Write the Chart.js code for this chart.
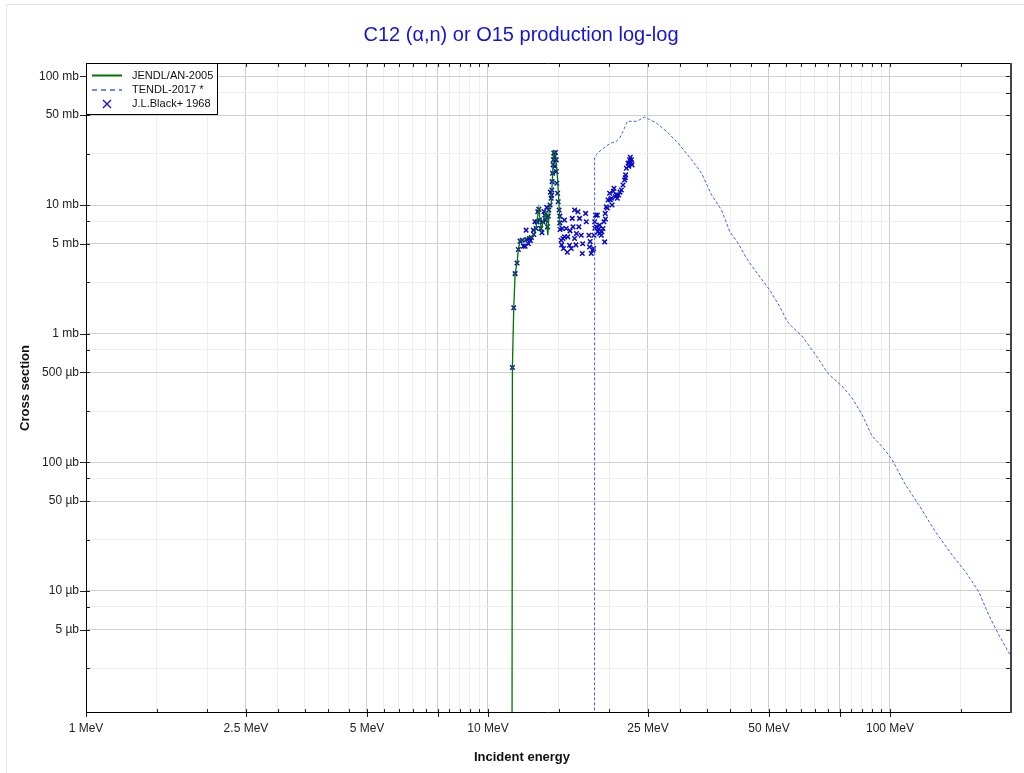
<!DOCTYPE html>
<html>
<head>
<meta charset="utf-8">
<script src="https://cdn.jsdelivr.net/npm/chart.js@4.4.0/dist/chart.umd.min.js"></script>
<style>
  body { margin: 0; background: #fff; }
  canvas { display: block; }
</style>
</head>
<body>
<canvas id="xs-canvas" width="1024" height="773"></canvas>
<script>
// JENDL/AN-2005 evaluation (MeV, mb)
var jendlE = [11.45, 11.50, 11.59, 11.68, 11.81, 11.90, 12.02, 12.34, 12.60, 12.96,
              13.17, 13.38, 13.56, 13.74, 13.90, 14.09, 14.22, 14.36, 14.50, 14.58,
              14.72, 14.90, 15.03, 15.11];
var jendlXS = [0.000001, 0.545, 1.59, 2.93, 3.54, 4.51, 5.33, 5.33, 5.66, 5.66,
               6.77, 9.44, 6.38, 7.64, 8.86, 5.83, 9.70, 10.0, 18.77, 26.3,
               25.35, 15.68, 9.70, 6.77];

// TENDL-2017 (MeV, mb)
var tendlE = [18.40, 18.42, 18.59, 19.13, 19.89, 20.46, 20.86, 21.26, 21.67, 22.22,
              22.73, 23.39, 23.84, 24.54, 25.25, 26.24, 27.79, 29.73, 32.08, 33.98,
              35.98, 38.11, 39.98, 41.95, 44.00, 46.14, 50.29, 53.27, 55.36, 56.97,
              60.33, 65.14, 70.33, 75.93, 80.39, 85.15, 90.19, 95.5, 101.2, 109.2,
              117.9, 129.7, 142.8, 154.1, 166.4, 176.2, 186.7, 200];
var tendlXS = [0.000001, 23.3, 24.6, 26.9, 29.4, 30.7, 31.3, 33.2, 37.4, 44.8,
               44.8, 44.8, 46.1, 48.4, 46.1, 43.5, 37.4, 30.3, 22.5, 17.7,
               12.0, 9.14, 6.18, 5.02, 3.84, 3.11, 2.17, 1.61, 1.26, 1.135,
               0.965, 0.693, 0.484, 0.392, 0.318, 0.236, 0.160, 0.133, 0.105, 0.0670,
               0.0468, 0.0289, 0.0190, 0.0141, 0.00982, 0.00645, 0.00451, 0.00310];

// J.L.Black+ 1968 measurement (MeV, mb)
var blackE = [11.50, 11.59, 11.68, 11.81, 11.90, 12.02, 12.16, 12.25, 12.37, 12.44,
              12.49, 12.68, 12.82, 12.97, 13.08, 13.17, 13.30, 13.38, 13.43, 13.53,
              13.69, 13.85, 13.95, 14.06, 14.17, 14.27, 14.36, 14.42, 14.44, 14.47,
              14.52, 14.58, 14.72, 14.78, 14.78, 14.83, 14.90, 14.95, 15.03, 15.09,
              15.09, 15.11, 15.21, 15.30, 15.36, 15.41, 15.50, 15.50, 15.65, 15.80,
              15.95, 16.11, 16.20, 16.27, 16.42, 16.42, 16.74, 16.83, 16.89, 17.06,
              17.16, 17.49, 17.56, 17.83, 17.89, 18.07, 18.24, 18.35, 18.42, 18.52,
              18.59, 18.70, 18.77, 18.95, 18.95, 19.13, 19.32, 19.43, 19.51, 19.57,
              19.69, 19.89, 20.07, 20.27, 20.35, 20.58, 20.74, 20.98, 21.13, 21.46,
              21.67, 21.88, 22.00, 22.09, 22.31, 22.51, 22.73, 22.82,
              12.60, 12.75, 13.00, 13.25, 13.62, 13.78, 14.00, 14.12, 14.30, 14.40,
              14.55, 14.62, 14.66, 15.25, 15.75, 16.00, 16.55, 16.60, 17.20, 17.95,
              18.30, 18.45, 18.85, 19.20, 19.60, 19.80, 20.15, 20.50, 20.85, 21.30,
              21.95, 22.40, 22.60, 22.70];
var blackXS = [0.545, 1.59, 2.93, 3.54, 4.51, 5.24, 5.33, 4.78, 4.78, 6.38,
               5.40, 5.49, 5.59, 6.38, 7.42, 6.58, 8.86, 9.26, 7.64, 6.58,
               7.42, 8.35, 7.64, 6.77, 9.14, 10.0, 11.28, 13.10, 15.21, 17.69,
               20.54, 25.35, 25.6, 22.47, 18.2, 14.77, 12.34, 10.61, 9.14, 8.20,
               7.27, 6.46, 5.33, 6.58, 5.49, 4.59, 7.64, 5.66, 6.58, 5.66,
               4.87, 4.59, 7.88, 6.77, 5.49, 9.14, 8.86, 6.77, 7.88, 5.83,
               4.20, 8.61, 7.42, 5.83, 4.72, 4.20, 4.45, 5.83, 7.42, 8.35,
               6.77, 8.35, 6.19, 6.98, 6.01, 5.83, 6.58, 7.42, 5.17, 8.61,
               9.70, 10.94, 12.34, 11.28, 10.0, 13.51, 11.61, 11.28, 11.97, 13.10,
               14.33, 15.68, 17.16, 19.35, 21.18, 22.47, 22.47, 20.54,
               5.0, 5.3, 5.9, 7.4, 6.1, 8.9, 9.6, 8.2, 12.6, 11.9,
               22.5, 24.0, 20.0, 4.9, 4.3, 6.3, 4.9, 6.0, 5.0, 5.2,
               4.6, 6.6, 6.5, 6.2, 7.8, 9.5, 11.0, 12.8, 12.0, 12.6,
               16.3, 20.0, 23.5, 21.5];

var seriesNames = ["JENDL/AN-2005", "TENDL-2017 *", "J.L.Black+ 1968"];

var xLabelValues = [1, 2.5, 5, 10, 25, 50, 100];
var xTickLabels = ["1 MeV", "2.5 MeV", "5 MeV", "10 MeV", "25 MeV", "50 MeV", "100 MeV"];
var yLabelValues = [100, 50, 10, 5, 1, 0.5, 0.1, 0.05, 0.01, 0.005];
var yTickLabels = ["100 mb", "50 mb", "10 mb", "5 mb", "1 mb", "500 µb", "100 µb", "50 µb", "10 µb", "5 µb"];

var X_MIN = 1, X_MAX = 200, Y_MIN = 0.001124, Y_MAX = 127.2;

function pairs(xs, ys) {
    return xs.map(function(x, i) { return {x: x, y: ys[i]}; });
}
function near(a, b) { return Math.abs(a - b) <= Math.abs(b) * 1e-6; }
function inList(v, list) { return list.some(function(l) { return near(v, l); }); }
function labelFor(v, vals, labels) {
    for (var i = 0; i < vals.length; i++) if (near(v, vals[i])) return labels[i];
    return "";
}

// tick positions: every half unit of each decade on x, 1/2.5/5/7.5 on y
var xTicks = [];
for (var d = 0; d <= 2; d++) {
    for (var m = 1; m < 10; m += 0.5) {
        var v = m * Math.pow(10, d);
        if (v <= X_MAX + 1e-9) xTicks.push(v);
    }
}
var xMajor = [];
[1, 2.5, 5, 7.5].forEach(function(m) { for (var d = 0; d <= 2; d++) xMajor.push(m * Math.pow(10, d)); });
var yTicks = [];
for (var e = -3; e <= 2; e++) {
    [1, 2.5, 5, 7.5].forEach(function(m) {
        var v = m * Math.pow(10, e);
        if (v >= Y_MIN && v <= Y_MAX) yTicks.push(v);
    });
}

var GRID_DARK = "#cfcfcf", GRID_LIGHT = "#eeeeee";
var GREEN = "rgb(0,115,0)", BLUE_DASH = "rgb(60,100,235)", MARK = "rgb(10,10,195)";

var decor = {
    id: "decor",
    beforeDraw: function(chart) {
        var ctx = chart.ctx;
        ctx.save();
        ctx.fillStyle = "#fff";
        ctx.fillRect(0, 0, chart.width, chart.height);
        ctx.strokeStyle = "#e4e4e4";
        ctx.lineWidth = 1;
        ctx.strokeRect(6.5, 4.5, 1100, 1000);
        ctx.restore();
    },
    afterDraw: function(chart) {
        var ctx = chart.ctx, a = chart.chartArea, xs = chart.scales.x, ys = chart.scales.y;
        ctx.save();
        // tick marks
        ctx.strokeStyle = "#222";
        ctx.lineWidth = 1;
        ctx.beginPath();
        xTicks.forEach(function(v) {
            var px = Math.round(xs.getPixelForValue(v)) + 0.5;
            var big = inList(v, xMajor);
            ctx.moveTo(px, a.bottom - 4); ctx.lineTo(px, a.bottom + (big ? 4 : 0));
            ctx.moveTo(px, a.top); ctx.lineTo(px, a.top + 4);
        });
        yTicks.forEach(function(v) {
            var py = Math.round(ys.getPixelForValue(v)) + 0.5;
            var big = inList(v, yLabelValues);
            ctx.moveTo(a.left - (big ? 6 : 0), py); ctx.lineTo(a.left + 4, py);
            ctx.moveTo(a.right - 5, py); ctx.lineTo(a.right, py);
        });
        ctx.stroke();
        // frame
        ctx.strokeStyle = "#000";
        ctx.beginPath();
        ctx.moveTo(a.left + 0.5, a.top + 0.5); ctx.lineTo(a.right, a.top + 0.5);
        ctx.moveTo(a.left + 0.5, a.top); ctx.lineTo(a.left + 0.5, a.bottom);
        ctx.moveTo(a.left, a.bottom - 0.5); ctx.lineTo(a.right, a.bottom - 0.5);
        ctx.stroke();
        ctx.strokeStyle = "#444";
        ctx.lineWidth = 2;
        ctx.beginPath();
        ctx.moveTo(a.right, a.top); ctx.lineTo(a.right, a.bottom);
        ctx.stroke();

        // legend
        var lx = a.left + 0.5, ly = a.top + 0.5, lw = 131, lh = 51;
        ctx.fillStyle = "#fff";
        ctx.fillRect(lx, ly, lw, lh);
        ctx.strokeStyle = "#000";
        ctx.lineWidth = 1;
        ctx.strokeRect(lx, ly, lw, lh);
        ctx.font = "11px 'Liberation Sans', Arial, sans-serif";
        ctx.textBaseline = "middle";
        ctx.textAlign = "left";
        var rows = [ly + 12, ly + 26.5, ly + 40.5];
        ctx.strokeStyle = GREEN; ctx.lineWidth = 2;
        ctx.beginPath(); ctx.moveTo(92, rows[0]); ctx.lineTo(122, rows[0]); ctx.stroke();
        ctx.strokeStyle = BLUE_DASH; ctx.lineWidth = 1.5; ctx.setLineDash([5, 4]);
        ctx.beginPath(); ctx.moveTo(92, rows[1]); ctx.lineTo(122, rows[1]); ctx.stroke();
        ctx.setLineDash([]);
        ctx.strokeStyle = MARK; ctx.lineWidth = 1.2;
        ctx.beginPath();
        ctx.moveTo(103, rows[2] - 4); ctx.lineTo(111, rows[2] + 4);
        ctx.moveTo(111, rows[2] - 4); ctx.lineTo(103, rows[2] + 4);
        ctx.stroke();
        ctx.fillStyle = "#111";
        seriesNames.forEach(function(n, i) { ctx.fillText(n, 132, rows[i]); });

        // titles
        ctx.fillStyle = "rgb(20,20,210)";
        ctx.textAlign = "center";
        ctx.font = "20px 'Liberation Sans', Arial, sans-serif";
        ctx.fillText("C12 (α,n) or O15 production log-log", 521, 35);
        ctx.fillStyle = "#111";
        ctx.font = "bold 13px 'Liberation Sans', Arial, sans-serif";
        ctx.fillText("Incident energy", 522, 757);
        ctx.translate(25, 388);
        ctx.rotate(-Math.PI / 2);
        ctx.fillText("Cross section", 0, 0);
        ctx.restore();
    }
};

document.addEventListener("DOMContentLoaded", function() {
    Chart.defaults.font.family = "'Liberation Sans', Arial, sans-serif";
    var ctx = document.getElementById("xs-canvas").getContext("2d");
    new Chart(ctx, {
        type: "scatter",
        data: {
            datasets: [{
                label: seriesNames[0],
                data: pairs(jendlE, jendlXS),
                showLine: true,
                borderColor: GREEN,
                borderWidth: 1.3,
                pointRadius: 0,
                tension: 0
            }, {
                label: seriesNames[1],
                data: pairs(tendlE, tendlXS),
                showLine: true,
                borderColor: BLUE_DASH,
                borderWidth: 1,
                borderDash: [3, 2],
                pointRadius: 0,
                tension: 0
            }, {
                label: seriesNames[2],
                data: pairs(blackE, blackXS),
                showLine: false,
                pointStyle: "crossRot",
                pointRadius: 3.2,
                borderColor: MARK,
                backgroundColor: MARK,
                pointBorderWidth: 1.5
            }]
        },
        options: {
            responsive: false,
            animation: false,
            layout: { padding: { top: 63, right: 13, bottom: 0, left: 0 } },
            plugins: {
                legend: { display: false },
                title: { display: false },
                tooltip: { enabled: false }
            },
            scales: {
                x: {
                    type: "logarithmic",
                    position: "bottom",
                    min: X_MIN,
                    max: X_MAX,
                    bounds: "data",
                    afterBuildTicks: function(s) { s.ticks = xTicks.map(function(v) { return {value: v}; }); },
                    afterFit: function(s) { s.height = 60; },
                    border: { display: false },
                    grid: {
                        drawTicks: false,
                        color: function(c) { return c.tick && inList(c.tick.value, xMajor) ? GRID_DARK : GRID_LIGHT; }
                    },
                    ticks: {
                        autoSkip: false,
                        maxRotation: 0,
                        padding: 8,
                        color: "#222",
                        font: { size: 12 },
                        callback: function(v) { return labelFor(v, xLabelValues, xTickLabels); }
                    }
                },
                y: {
                    type: "logarithmic",
                    position: "left",
                    min: Y_MIN,
                    max: Y_MAX,
                    bounds: "data",
                    afterBuildTicks: function(s) { s.ticks = yTicks.map(function(v) { return {value: v}; }); },
                    afterFit: function(s) { s.width = 86; },
                    border: { display: false },
                    grid: {
                        drawTicks: false,
                        color: function(c) { return c.tick && inList(c.tick.value, yLabelValues) ? GRID_DARK : GRID_LIGHT; }
                    },
                    ticks: {
                        autoSkip: false,
                        padding: 7,
                        color: "#222",
                        font: { size: 12 },
                        callback: function(v) { return labelFor(v, yLabelValues, yTickLabels); }
                    }
                }
            }
        },
        plugins: [decor]
    });
});
</script>
</body>
</html>
